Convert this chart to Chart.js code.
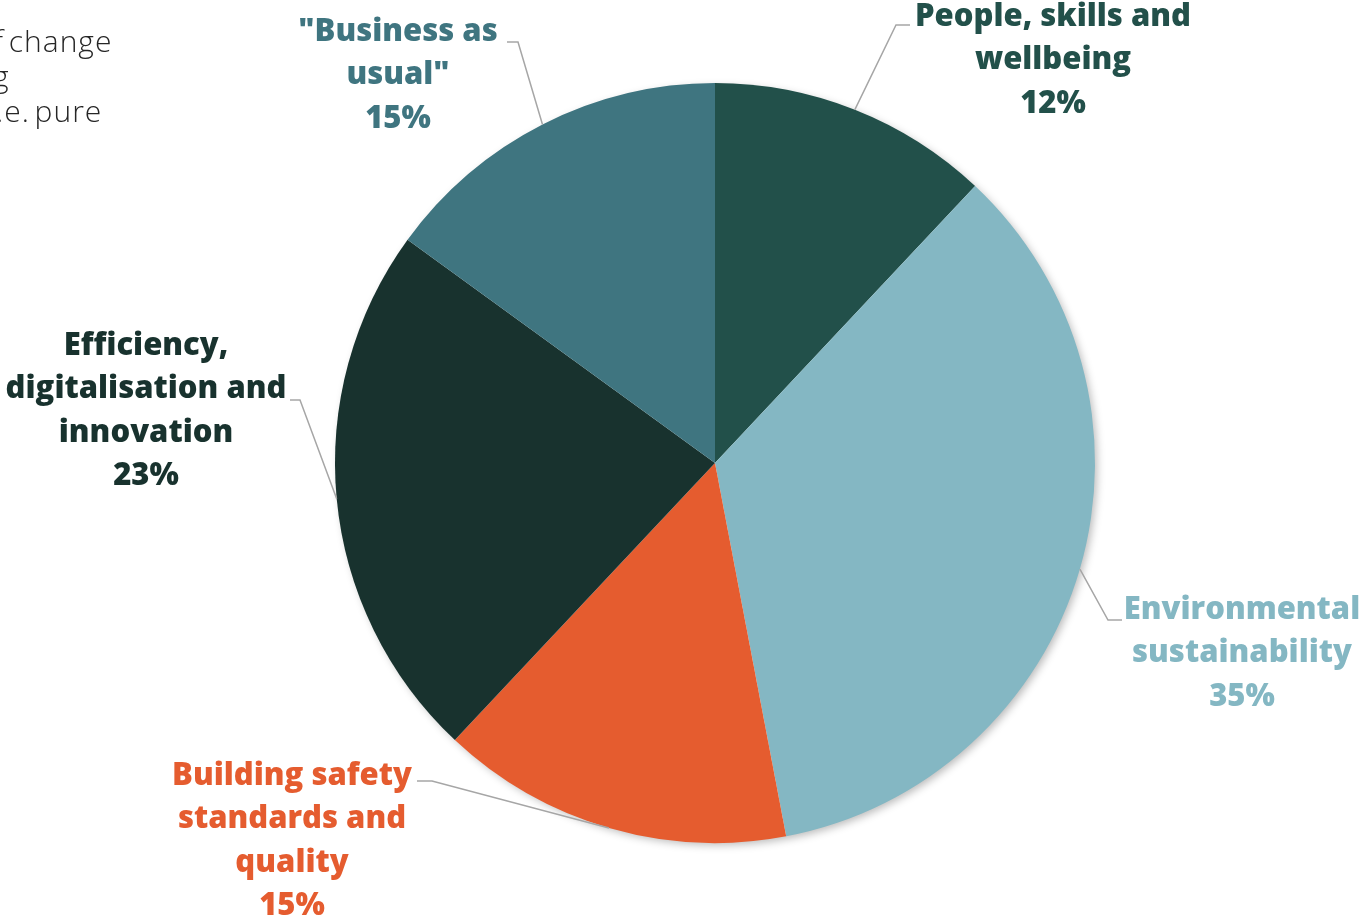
<!DOCTYPE html>
<html>
<head>
<meta charset="utf-8">
<script src="https://cdn.jsdelivr.net/npm/chart.js@4.4.1/dist/chart.umd.min.js"></script>
<style>
  html, body { margin: 0; padding: 0; background: #fff; overflow: hidden; }
  #wrap { position: relative; width: 1361px; height: 920px; }
  .side { position: absolute; font-family: "Open Sans", sans-serif; font-weight: 300;
          font-size: 30px; line-height: 36px; letter-spacing: 1px; word-spacing: -4px;
          color: #262626; white-space: pre; }
</style>
</head>
<body>
<div id="wrap">
  <canvas id="myChart" width="1361" height="920"></canvas>
  <div class="side" style="left:-6px;top:23px">f change</div>
  <div class="side" style="left:-7px;top:58px">g</div>
  <div class="side" style="left:-4px;top:93px">.e. pure</div>
</div>
<script>

var categories = ['People, skills and wellbeing', 'Environmental sustainability', 'Building safety standards and quality', 'Efficiency, digitalisation and innovation', '"Business as usual"'];
var shares = [12, 35, 15, 23, 15];
var labelLines = [
  ['People, skills and', 'wellbeing'],
  ['Environmental', 'sustainability'],
  ['Building safety', 'standards and', 'quality'],
  ['Efficiency,', 'digitalisation and', 'innovation'],
  ['"Business as', 'usual"']
];
var colours = ['#22504A', '#84B7C3', '#E55C2F', '#18322E', '#3F7580'];

// label placement, offsets from the pie centre
var labelLayout = [
  { tx: 338, ty: -446, ex: 181, ey: -438, hx: 195 },
  { tx: 527, ty: 147, ex: 393, ey: 157, hx: 407 },
  { tx: -423, ty: 313, ex: -283, ey: 318, hx: -298 },
  { tx: -569, ty: -117, ex: -415, ey: -63, hx: -425 },
  { tx: -317, ty: -431, ex: -197, ey: -421, hx: -208 }
];

var pieShadow = {
  id: 'pieShadow',
  beforeDatasetsDraw: function(chart) {
    var arc = chart.getDatasetMeta(0).data[0];
    var ctx = chart.ctx;
    ctx.save();
    ctx.shadowColor = 'rgba(0,0,0,0.28)';
    ctx.shadowBlur = 9;
    ctx.shadowOffsetX = 3;
    ctx.shadowOffsetY = 3;
    ctx.fillStyle = '#fff';
    ctx.beginPath();
    ctx.arc(arc.x, arc.y, arc.outerRadius - 1, 0, Math.PI * 2);
    ctx.fill();
    ctx.restore();
  }
};

var outsideLabels = {
  id: 'outsideLabels',
  afterDraw: function(chart) {
    var ctx = chart.ctx;
    var arcs = chart.getDatasetMeta(0).data;
    ctx.save();
    arcs.forEach(function(arc, i) {
      var lay = labelLayout[i];
      var mid = (arc.startAngle + arc.endAngle) / 2;
      var px = arc.x + arc.outerRadius * Math.cos(mid);
      var py = arc.y + arc.outerRadius * Math.sin(mid);

      ctx.strokeStyle = '#A6A6A6';
      ctx.lineWidth = 1.5;
      ctx.beginPath();
      ctx.moveTo(px, py);
      ctx.lineTo(arc.x + lay.ex, arc.y + lay.ey);
      ctx.lineTo(arc.x + lay.hx, arc.y + lay.ey);
      ctx.stroke();

      var lines = labelLines[i].concat([shares[i] + '%']);
      ctx.fillStyle = colours[i];
      ctx.font = '800 31px "Open Sans", sans-serif';
      ctx.textAlign = 'center';
      ctx.textBaseline = 'middle';
      lines.forEach(function(t, j) {
        ctx.fillText(t, arc.x + lay.tx, arc.y + lay.ty + j * 43.4);
      });
    });
    ctx.restore();
  }
};

function drawChart() {

  var ctx = document.getElementById('myChart').getContext('2d');
  var chart = new Chart(ctx, {

    type: 'pie',
    data: {
      labels: categories,
      datasets: [{
        data: shares,
        backgroundColor: colours,
        borderWidth: 0
      }]
    },
    options: {
      responsive: false,
      animation: false,
      layout: { padding: { top: 83, bottom: 77, left: 335, right: 266 } },
      plugins: {
        legend: { display: false },
        tooltip: { enabled: false }
      }
    },
    plugins: [pieShadow, outsideLabels]
  });
}

drawChart();
</script>
</body>
</html>
